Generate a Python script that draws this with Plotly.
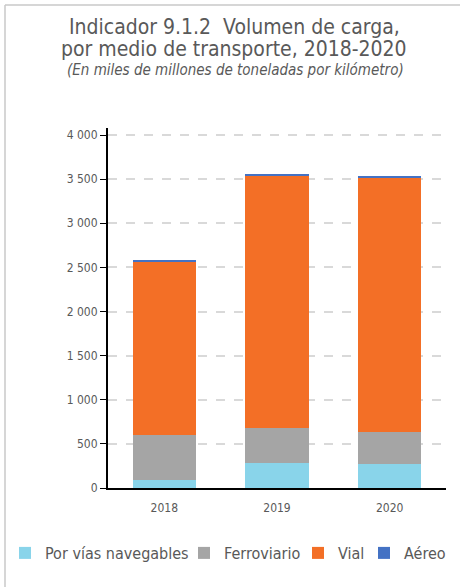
import plotly.graph_objects as go

years = ["2018", "2019", "2020"]
navegables = [87, 283, 272]
ferroviario = [513, 397, 363]
vial = [1972, 2865, 2880]
aereo = [3, 15, 10]

series = [
    ("Por vías navegables", navegables, "#89D4EA"),
    ("Ferroviario", ferroviario, "#A5A5A5"),
    ("Vial", vial, "#F36F26"),
    ("Aéreo", aereo, "#4472C4"),
]

tick_vals = [0, 500, 1000, 1500, 2000, 2500, 3000, 3500, 4000]
tick_text = ["0", "500", "1 000", "1 500", "2 000", "2 500", "3 000", "3 500", "4 000"]

FONT = "DejaVu Sans Condensed"
GRAY = "#595959"

W, H = 460, 587
L, R, T, B = 108, 14, 128, 99
pw, ph = W - L - R, H - T - B

def px(x):
    return (x - L) / pw

def py(y):
    return (H - B - y) / ph

legend_ids = ["legend", "legend2", "legend3", "legend4"]
legend_left = [5, 184, 298, 364]

fig = go.Figure()
for (name, vals, color), lid in zip(series, legend_ids):
    fig.add_trace(go.Bar(x=years, y=vals, name=name, legend=lid,
                         marker=dict(color=color, line=dict(width=0))))

legend_layout = {}
for lid, left in zip(legend_ids, legend_left):
    legend_layout[lid] = dict(orientation="h", xref="container", yref="container",
                              x=left / W, xanchor="left", y=1 - 553 / H, yanchor="middle",
                              font=dict(size=16, color=GRAY, family=FONT), itemwidth=30,
                              bgcolor="rgba(0,0,0,0)", borderwidth=0)

fig.update_layout(
    width=W, height=H,
    margin=dict(l=L, r=R, t=T, b=B, autoexpand=False),
    barmode="stack", bargap=0.44,
    plot_bgcolor="white", paper_bgcolor="white",
    font=dict(family=FONT, color=GRAY),
    showlegend=True,
    xaxis=dict(showline=True, linecolor="black", linewidth=2, ticks="", tickfont=dict(size=12, color=GRAY),
               showgrid=False, ticklabelstandoff=8),
    yaxis=dict(range=[0, 4000 * 360 / 353], tickvals=tick_vals, ticktext=tick_text, showline=True,
               linecolor="black", linewidth=2, ticks="outside", ticklen=6, tickcolor="black",
               tickfont=dict(size=12, color=GRAY), showgrid=True, gridcolor="#D9D9D9",
               griddash="dash", gridwidth=1.5, zeroline=False),
    **legend_layout,
)

fig.add_annotation(text="Indicador 9.1.2  Volumen de carga,",
                   xref="paper", yref="paper", x=px(234), y=py(27), xanchor="center", yanchor="middle",
                   showarrow=False, font=dict(size=21, color=GRAY, family=FONT))
fig.add_annotation(text="por medio de transporte, 2018-2020",
                   xref="paper", yref="paper", x=px(234), y=py(49), xanchor="center", yanchor="middle",
                   showarrow=False, font=dict(size=21, color=GRAY, family=FONT))
fig.add_annotation(text="<i>(En miles de millones de toneladas por kilómetro)</i>",
                   xref="paper", yref="paper", x=px(235), y=py(70), xanchor="center", yanchor="middle",
                   showarrow=False, font=dict(size=15, color=GRAY, family=FONT))

fig.add_shape(type="line", xref="paper", yref="paper", x0=px(5), x1=px(460), y0=py(5), y1=py(5),
              line=dict(color="#C8C8C8", width=1.5))
fig.add_shape(type="line", xref="paper", yref="paper", x0=px(5), x1=px(5), y0=py(5), y1=py(587),
              line=dict(color="#C8C8C8", width=1.5))

fig.write_html("out.html", config={"displayModeBar": False},
               post_script="document.body.style.margin='0px';")
